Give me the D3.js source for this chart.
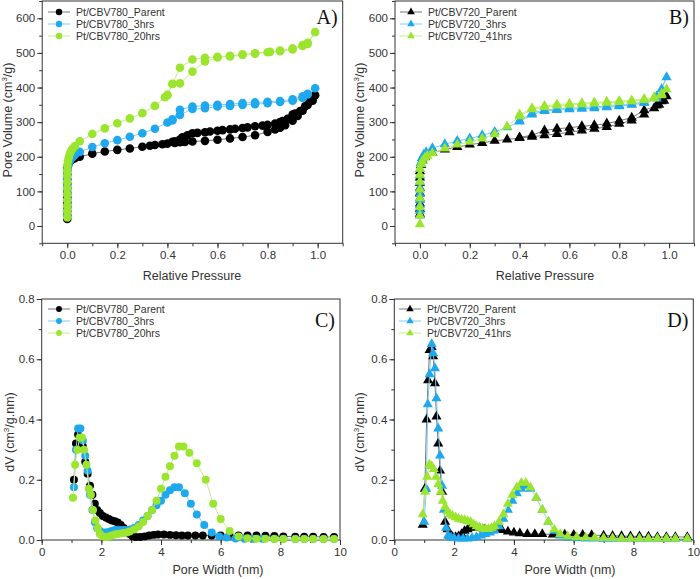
<!DOCTYPE html>
<html>
<head>
<meta charset="utf-8">
<script src="https://cdn.jsdelivr.net/npm/d3@7"></script>
<style>
  body { margin: 0; background: #fff; }
  svg { font-family: "Liberation Sans", Arial, sans-serif; }
</style>
</head>
<body>
<svg id="fig" width="700" height="579"></svg>
<script>
// ---- data ----
// isotherms: [relative pressure, pore volume cm3/g], adsorption then desorption
const cbv780Parent = [[0,20],[0,30],[0,42],[0,55],[0,68],[0,82],[0,96],[0,110],[0,122],[0,135],[0,148],[0,160],[0,170],[0.005,180],[0.01,186],[0.02,192],[0.03,196],[0.05,200],[0.1,209],[0.15,215],[0.2,220],[0.25,224],[0.3,229],[0.33,232],[0.35,234],[0.38,236],[0.4,238],[0.43,240],[0.45,242],[0.47,243],[0.5,244],[0.55,246],[0.6,249],[0.65,253],[0.7,257],[0.75,262],[0.8,272],[0.83,279],[0.85,284],[0.87,291],[0.9,304],[0.92,318],[0.94,333],[0.96,350],[0.98,362],[0.99,378],
  [0.98,370],[0.97,360],[0.95,346],[0.93,332],[0.91,325],[0.9,322],[0.88,310],[0.86,303],[0.85,300],[0.83,296],[0.8,292],[0.78,290],[0.75,288],[0.72,285],[0.7,283],[0.67,281],[0.65,279],[0.62,277],[0.6,275],[0.57,273],[0.55,271],[0.52,269],[0.5,268],[0.48,262],[0.46,256],[0.45,250],[0.43,245],[0.42,243]];
const cbv780_3h = [[0,30],[0,45],[0,60],[0,75],[0,90],[0,105],[0,120],[0,135],[0,150],[0,163],[0.005,176],[0.01,188],[0.02,198],[0.03,205],[0.05,214],[0.1,228],[0.15,239],[0.2,248],[0.25,258],[0.3,268],[0.35,281],[0.4,299],[0.42,305],[0.45,321],[0.5,338],[0.55,340],[0.6,345],[0.65,347],[0.7,350],[0.75,352],[0.8,355],[0.85,358],[0.9,362],[0.94,370],[0.96,380],[0.99,398],
  [0.96,382],[0.94,375],[0.9,366],[0.85,361],[0.8,359],[0.75,357],[0.7,355],[0.65,352],[0.6,350],[0.55,348],[0.5,345],[0.45,336],[0.42,308]];
const cbv780_20h = [[0,25],[0,42],[0,58],[0,75],[0,92],[0,110],[0,128],[0,145],[0,160],[0,175],[0.003,188],[0.006,198],[0.01,208],[0.015,216],[0.02,222],[0.03,230],[0.05,245],[0.1,266],[0.15,282],[0.2,297],[0.25,311],[0.3,326],[0.35,347],[0.39,372],[0.4,379],[0.42,411],[0.45,412],[0.5,446],[0.55,475],[0.6,487],[0.65,490],[0.7,494],[0.75,498],[0.8,502],[0.85,505],[0.9,510],[0.94,520],[0.96,526],[0.99,560],
  [0.96,529],[0.94,523],[0.9,513],[0.85,507],[0.81,503],[0.75,499],[0.7,496],[0.65,492],[0.6,489],[0.55,486],[0.5,481],[0.45,457],[0.42,410],[0.4,378]];

const cbv720Parent = [[0,35],[0,50],[0,65],[0,80],[0,95],[0,110],[0,125],[0,140],[0,158],[0.005,176],[0.01,190],[0.02,200],[0.05,211],[0.1,221],[0.15,228],[0.2,235],[0.25,240],[0.3,246],[0.35,250],[0.4,254],[0.45,258],[0.5,262],[0.55,266],[0.6,271],[0.65,276],[0.7,281],[0.75,286],[0.8,295],[0.85,305],[0.9,322],[0.94,340],[0.96,350],[0.98,362],[0.99,375],
  [0.97,360],[0.95,348],[0.9,334],[0.85,313],[0.8,304],[0.75,296],[0.7,291],[0.65,288],[0.6,284],[0.55,281],[0.5,276],[0.45,262],[0.4,256]];
const cbv720_3h = [[0,30],[0,45],[0,60],[0,75],[0,92],[0,110],[0,128],[0,146],[0,165],[0.003,182],[0.008,196],[0.015,205],[0.025,213],[0.05,225],[0.1,236],[0.15,246],[0.2,253],[0.25,262],[0.3,272],[0.35,285],[0.4,302],[0.45,322],[0.5,332],[0.55,335],[0.6,337],[0.65,339],[0.7,340],[0.75,343],[0.8,346],[0.85,350],[0.9,355],[0.95,368],[0.99,430],
  [0.97,395],[0.95,374],[0.9,358],[0.85,352],[0.8,349],[0.75,346],[0.7,344],[0.65,342],[0.6,340],[0.55,338],[0.5,335],[0.45,326],[0.4,305]];
const cbv720_41h = [[0,5],[0,30],[0,55],[0,80],[0,105],[0,128],[0,148],[0,165],[0.005,178],[0.01,188],[0.02,197],[0.03,203],[0.05,210],[0.1,224],[0.15,235],[0.2,243],[0.25,253],[0.3,265],[0.35,287],[0.4,317],[0.45,337],[0.5,344],[0.55,348],[0.6,350],[0.65,352],[0.7,354],[0.75,356],[0.8,358],[0.85,360],[0.9,364],[0.94,369],[0.97,378],[0.99,395],
  [0.97,382],[0.94,372],[0.9,367],[0.85,363],[0.8,361],[0.75,359],[0.7,357],[0.65,355],[0.6,353],[0.55,351],[0.5,347],[0.45,340],[0.4,322]];

// pore size distributions: [pore width nm, dV cm3/g.nm]
const psd780Parent = [[1.08,0.20],[1.15,0.32],[1.22,0.35],[1.3,0.34],[1.38,0.31],[1.46,0.26],[1.54,0.22],[1.62,0.18],[1.7,0.15],[1.78,0.12],[1.86,0.10],[1.95,0.09],[2.05,0.08],[2.15,0.075],[2.25,0.07],[2.35,0.065],[2.45,0.062],[2.55,0.058],[2.65,0.05],[2.75,0.04],[2.85,0.03],[2.95,0.02],[3.05,0.012],[3.15,0.01],[3.3,0.01],[3.45,0.012],[3.6,0.015],[3.75,0.017],[3.9,0.018],[4.1,0.018],[4.3,0.017],[4.5,0.016],[4.7,0.015],[4.9,0.015],[5.15,0.015],[5.4,0.015],[5.7,0.015],[6.0,0.015],[6.3,0.015],[6.6,0.015],[6.9,0.015],[7.2,0.015],[7.5,0.014],[7.8,0.013],[8.1,0.012],[8.5,0.011],[8.8,0.011],[9.1,0.011],[9.45,0.01],[9.8,0.01]];
const psd780_3h = [[1.08,0.175],[1.15,0.30],[1.22,0.37],[1.3,0.37],[1.38,0.33],[1.46,0.28],[1.54,0.23],[1.62,0.15],[1.7,0.10],[1.78,0.06],[1.86,0.04],[1.95,0.03],[2.05,0.025],[2.15,0.025],[2.25,0.027],[2.35,0.03],[2.45,0.033],[2.55,0.033],[2.65,0.033],[2.75,0.033],[2.85,0.033],[2.95,0.035],[3.1,0.04],[3.25,0.05],[3.4,0.065],[3.55,0.08],[3.7,0.10],[3.85,0.115],[4.0,0.13],[4.15,0.15],[4.3,0.165],[4.45,0.175],[4.6,0.175],[4.8,0.155],[5.0,0.12],[5.2,0.085],[5.45,0.05],[5.7,0.025],[5.95,0.012],[6.2,0.008],[6.5,0.005],[6.8,0.004],[7.1,0.004],[7.4,0.004],[7.8,0.004],[8.1,0.004],[8.5,0.003],[8.8,0.003],[9.1,0.003],[9.45,0.003],[9.8,0.003]];
const psd780_20h = [[1.05,0.14],[1.12,0.25],[1.2,0.30],[1.27,0.34],[1.35,0.34],[1.42,0.30],[1.5,0.25],[1.58,0.17],[1.65,0.15],[1.72,0.10],[1.8,0.065],[1.88,0.04],[1.95,0.02],[2.05,0.012],[2.15,0.01],[2.25,0.012],[2.35,0.015],[2.45,0.018],[2.55,0.02],[2.65,0.022],[2.75,0.023],[2.85,0.025],[2.95,0.028],[3.1,0.035],[3.25,0.045],[3.4,0.06],[3.55,0.08],[3.7,0.10],[3.85,0.13],[4.0,0.17],[4.15,0.21],[4.3,0.245],[4.45,0.28],[4.6,0.31],[4.75,0.31],[4.95,0.29],[5.2,0.255],[5.5,0.20],[5.75,0.12],[6.0,0.07],[6.3,0.03],[6.6,0.012],[6.9,0.006],[7.2,0.004],[7.5,0.004],[7.8,0.003],[8.1,0.003],[8.5,0.003],[8.8,0.003],[9.1,0.003],[9.45,0.003],[9.8,0.003]];

const psd720Parent = [[0.95,0.05],[1.02,0.17],[1.08,0.40],[1.13,0.53],[1.18,0.63],[1.25,0.64],[1.3,0.61],[1.36,0.52],[1.41,0.41],[1.47,0.32],[1.53,0.23],[1.6,0.16],[1.7,0.06],[1.78,0.035],[1.86,0.015],[1.95,0.01],[2.05,0.01],[2.15,0.012],[2.25,0.02],[2.35,0.03],[2.45,0.035],[2.55,0.04],[2.7,0.042],[2.85,0.04],[3.0,0.035],[3.15,0.033],[3.3,0.032],[3.45,0.035],[3.6,0.033],[3.8,0.028],[4.0,0.025],[4.2,0.022],[4.45,0.02],[4.7,0.02],[4.95,0.02],[5.3,0.018],[5.7,0.018],[6.0,0.017],[6.3,0.017],[6.6,0.016],[7.0,0.015],[7.3,0.014],[7.6,0.013],[7.9,0.012],[8.2,0.012],[8.5,0.011],[8.8,0.01],[9.1,0.01],[9.4,0.01],[9.8,0.01]];
const psd720_3h = [[1.0,0.06],[1.07,0.17],[1.12,0.45],[1.18,0.55],[1.25,0.65],[1.3,0.62],[1.36,0.57],[1.41,0.47],[1.47,0.37],[1.53,0.28],[1.6,0.18],[1.66,0.10],[1.73,0.04],[1.8,0.015],[1.9,0.008],[2.0,0.006],[2.15,0.005],[2.3,0.005],[2.45,0.005],[2.6,0.006],[2.75,0.01],[2.9,0.015],[3.05,0.02],[3.2,0.025],[3.35,0.032],[3.5,0.045],[3.65,0.07],[3.8,0.10],[3.95,0.13],[4.1,0.155],[4.25,0.17],[4.4,0.18],[4.55,0.17],[4.75,0.14],[4.95,0.10],[5.15,0.06],[5.35,0.03],[5.55,0.015],[5.8,0.008],[6.1,0.006],[6.4,0.005],[6.7,0.005],[7.0,0.004],[7.3,0.004],[7.6,0.004],[7.9,0.004],[8.2,0.004],[8.5,0.004],[8.8,0.004],[9.1,0.004],[9.4,0.004],[9.8,0.004]];
const psd720_41h = [[0.95,0.085],[1.03,0.16],[1.1,0.21],[1.17,0.25],[1.25,0.245],[1.32,0.235],[1.4,0.21],[1.47,0.185],[1.55,0.16],[1.62,0.13],[1.7,0.11],[1.78,0.095],[1.86,0.085],[1.95,0.08],[2.05,0.075],[2.15,0.07],[2.25,0.068],[2.35,0.066],[2.45,0.063],[2.55,0.06],[2.65,0.052],[2.75,0.045],[2.85,0.04],[2.95,0.038],[3.05,0.036],[3.15,0.036],[3.25,0.04],[3.35,0.045],[3.5,0.06],[3.65,0.085],[3.8,0.12],[3.95,0.15],[4.1,0.175],[4.25,0.19],[4.4,0.19],[4.55,0.175],[4.75,0.14],[4.95,0.10],[5.15,0.06],[5.35,0.035],[5.55,0.02],[5.8,0.012],[6.1,0.01],[6.4,0.008],[6.7,0.007],[7.0,0.006],[7.3,0.006],[7.6,0.005],[7.9,0.005],[8.2,0.005],[8.5,0.005],[8.8,0.005],[9.1,0.005],[9.4,0.005],[9.8,0.005]];

const names780 = ["Pt/CBV780_Parent", "Pt/CBV780_3hrs", "Pt/CBV780_20hrs"];
const names720 = ["Pt/CBV720_Parent", "Pt/CBV720_3hrs", "Pt/CBV720_41hrs"];

const isoXTicks = [0, 0.2, 0.4, 0.6, 0.8, 1.0];
const isoYTicks = [0, 100, 200, 300, 400, 500, 600];
const psdXTicks = [0, 2, 4, 6, 8, 10];
const psdYTicks = [0, 0.2, 0.4, 0.6, 0.8];

// ---- styling ----
const markerCol = ["#000000", "#1ea8ee", "#9be52e"];
const lineCol = ["#777777", "#7fcdf2", "#c4ee88"];
const axisCol = "#333";

const svg = d3.select("#fig");

function panel(cfg) {
  const x = d3.scaleLinear().domain(cfg.xDomain).range(cfg.xRange);
  const y = d3.scaleLinear().domain(cfg.yDomain).range(cfg.yRange);
  const g = svg.append("g");

  const [x0, x1] = cfg.xRange, [y0, y1] = [cfg.yRange[1], cfg.yRange[0]];

  // frame
  g.append("rect")
    .attr("x", x0).attr("y", y0)
    .attr("width", x1 - x0).attr("height", y1 - y0)
    .attr("fill", "none").attr("stroke", axisCol).attr("stroke-width", 1);

  // minor ticks
  g.append("g").attr("transform", `translate(0,${y1})`)
    .call(d3.axisBottom(x).tickValues(cfg.xMinor).tickSize(3).tickFormat(""))
    .call(a => a.select(".domain").remove())
    .selectAll("line").attr("stroke", axisCol);
  g.append("g").attr("transform", `translate(${x0},0)`)
    .call(d3.axisLeft(y).tickValues(cfg.yMinor).tickSize(3).tickFormat(""))
    .call(a => a.select(".domain").remove())
    .selectAll("line").attr("stroke", axisCol);

  // major ticks
  const xa = g.append("g").attr("transform", `translate(0,${y1})`)
    .call(d3.axisBottom(x).tickValues(cfg.xTicks).tickSize(5).tickPadding(3).tickFormat(cfg.xFmt));
  const ya = g.append("g").attr("transform", `translate(${x0},0)`)
    .call(d3.axisLeft(y).tickValues(cfg.yTicks).tickSize(5).tickPadding(2).tickFormat(cfg.yFmt));
  [xa, ya].forEach(a => {
    a.select(".domain").remove();
    a.selectAll("line").attr("stroke", axisCol);
    a.selectAll("text").attr("fill", axisCol).attr("font-size", 11.5)
      .attr("font-family", "'Liberation Sans', Arial, sans-serif");
  });

  // axis titles
  g.append("text")
    .attr("x", cfg.xTitlePos[0]).attr("y", cfg.xTitlePos[1])
    .attr("text-anchor", "middle").attr("font-size", 12.5).attr("fill", axisCol)
    .text(cfg.xTitle);
  const yt = g.append("text")
    .attr("transform", `translate(${cfg.yTitlePos[0]},${cfg.yTitlePos[1]}) rotate(-90)`)
    .attr("text-anchor", "middle").attr("font-size", 12.5).attr("fill", axisCol);
  yt.append("tspan").text(cfg.yTitle[0]);
  yt.append("tspan").attr("font-size", 8).attr("dy", -5).text("3");
  yt.append("tspan").attr("dy", 5).text(cfg.yTitle[1]);

  // series
  const sym = d3.symbol().type(cfg.symbol).size(cfg.symSize);
  const line = d3.line().x(d => x(d[0])).y(d => y(d[1]));
  cfg.series.forEach((s, i) => {
    g.append("path").datum(s)
      .attr("d", line).attr("fill", "none")
      .attr("stroke", lineCol[i]).attr("stroke-width", 1);
    g.append("g").selectAll("path").data(s).join("path")
      .attr("d", sym)
      .attr("transform", d => `translate(${x(d[0])},${y(d[1])})`)
      .attr("fill", markerCol[i]);
  });

  // legend
  const lg = g.append("g").attr("transform", `translate(${cfg.legendPos[0]},${cfg.legendPos[1]})`);
  cfg.names.forEach((n, i) => {
    const row = lg.append("g").attr("transform", `translate(0,${i * 12})`);
    row.append("line").attr("x1", 0).attr("x2", 22).attr("y1", 0).attr("y2", 0)
      .attr("stroke", lineCol[i]).attr("stroke-width", 1);
    row.append("path").attr("d", d3.symbol().type(cfg.symbol).size(cfg.symSize * 0.55))
      .attr("transform", "translate(11,0)").attr("fill", markerCol[i]);
    row.append("text").attr("x", 28).attr("y", 3.5)
      .attr("font-size", 10.5).attr("fill", axisCol).text(n);
  });

  // panel letter
  g.append("text")
    .attr("x", x1 - 5).attr("y", cfg.letterY)
    .attr("text-anchor", "end")
    .attr("font-family", "'Liberation Serif', 'Times New Roman', serif")
    .attr("font-size", 20).attr("fill", "#111")
    .text(cfg.letter);
}

const isoXMinor = d3.range(-0.1, 1.15, 0.1).map(v => +v.toFixed(2));
const isoYMinor = d3.range(-50, 651, 50);
const psdXMinor = d3.range(0, 11, 1);
const psdYMinor = d3.range(0, 0.81, 0.1).map(v => +v.toFixed(2));

const isoCommon = {
  xDomain: [-0.1, 1.1], yDomain: [-50, 650],
  xTicks: isoXTicks, yTicks: isoYTicks, xMinor: isoXMinor, yMinor: isoYMinor,
  xFmt: d3.format(".1f"), yFmt: d3.format("d"),
  xTitle: "Relative Pressure", yTitle: ["Pore Volume (cm", "/g)"]
};
const psdCommon = {
  xDomain: [0, 10], yDomain: [0, 0.8],
  xTicks: psdXTicks, yTicks: psdYTicks, xMinor: psdXMinor, yMinor: psdYMinor,
  xFmt: d3.format("d"), yFmt: d3.format(".1f"),
  xTitle: "Pore Width (nm)", yTitle: ["dV (cm", "/g.nm)"]
};

panel({...isoCommon, xRange: [42.2, 342.7], yRange: [243.3, 1.0],
  series: [cbv780Parent, cbv780_3h, cbv780_20h], names: names780,
  symbol: d3.symbolCircle, symSize: 58,
  xTitlePos: [192, 280], yTitlePos: [12, 120], legendPos: [48, 12],
  letter: "A)", letterY: 24});

panel({...isoCommon, xRange: [395, 694], yRange: [243.3, 1.0],
  series: [cbv720Parent, cbv720_3h, cbv720_41h], names: names720,
  symbol: d3.symbolTriangle, symSize: 46,
  xTitlePos: [545, 280], yTitlePos: [364, 120], legendPos: [400, 12],
  letter: "B)", letterY: 24});

panel({...psdCommon, xRange: [41.7, 340], yRange: [540, 299],
  series: [psd780Parent, psd780_3h, psd780_20h], names: names780,
  symbol: d3.symbolCircle, symSize: 50,
  xTitlePos: [218, 574], yTitlePos: [14, 432], legendPos: [48, 309],
  letter: "C)", letterY: 327});

panel({...psdCommon, xRange: [394.3, 693.3], yRange: [540, 299],
  series: [psd720Parent, psd720_3h, psd720_41h], names: names720,
  symbol: d3.symbolTriangle, symSize: 44,
  xTitlePos: [570, 574], yTitlePos: [364, 432], legendPos: [399, 309],
  letter: "D)", letterY: 327});
</script>
</body>
</html>
